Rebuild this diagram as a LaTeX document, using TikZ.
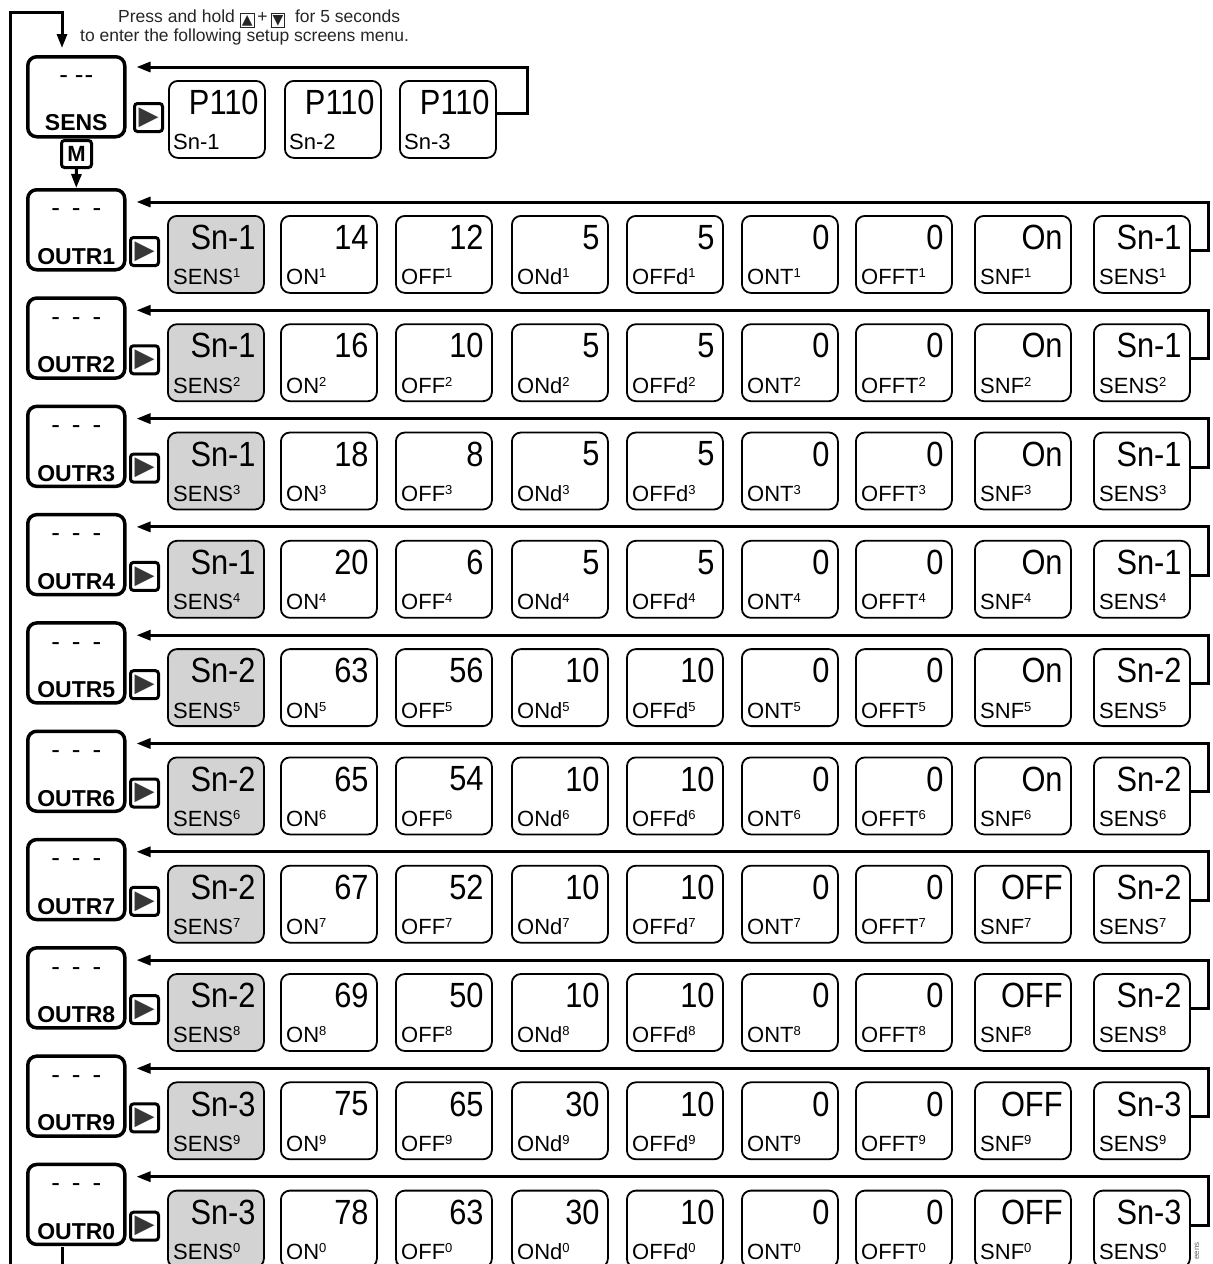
\documentclass[tikz,border=0pt]{standalone}
\usepackage{fontspec}
\setmainfont{Liberation Sans}
\newfontfamily\dejavu{DejaVu Sans}
\newfontfamily\tallsans[FakeStretch=0.88]{Liberation Sans}
\usepackage{xcolor}
\usepackage{tikz}
\usetikzlibrary{arrows.meta,calc}
\definecolor{boxgrey}{RGB}{211,211,211}
\definecolor{keygrey}{RGB}{55,55,55}
\newcommand\keyup{{\fboxsep=1pt\fboxrule=1pt\raisebox{-2pt}{\fbox{\dejavu\fontsize{14}{14}\selectfont ▲}}}}
\newcommand\keydn{{\fboxsep=1pt\fboxrule=1pt\raisebox{-2pt}{\fbox{\dejavu\fontsize{14}{14}\selectfont ▼}}}}
\newcommand\idx[1]{\raisebox{7pt}{\fontsize{13}{13}\selectfont #1}}

\begin{document}
\begin{tikzpicture}[x=1pt,y=-1pt,
  conn/.style={line width=3pt},
  arr/.style={conn,-{Triangle[length=14pt,width=10pt]}},
  menubox/.style={draw,line width=3.5pt,rounded corners=9pt,minimum width=97pt,minimum height=80pt,anchor=north west,inner sep=0pt},
  valbox/.style={draw,line width=1.8pt,rounded corners=9pt,minimum width=96pt,minimum height=77pt,anchor=north west,inner sep=0pt},
  keybox/.style={draw,line width=3pt,rounded corners=3pt,minimum size=28pt,inner sep=0pt,anchor=north west},
  bigtxt/.style={font=\tallsans\fontsize{35}{35}\selectfont,inner sep=0pt,anchor=north east},
  labtxt/.style={font=\fontsize{22}{22}\selectfont,inner sep=0pt,anchor=base west},
  menutxt/.style={font=\fontsize{23}{23}\selectfont\bfseries,inner sep=0pt,anchor=base},
  dashtxt/.style={font=\fontsize{26}{26}\selectfont,inner sep=0pt},
  hdtxt/.style={font=\fontsize{17.5}{17.5}\selectfont,inner sep=0pt,anchor=base west,text=black!85}]
\useasboundingbox (0,0) rectangle (1213,1264);

% header
\node[hdtxt] (hd1) at (118,22) {Press and hold \keyup\,+\,\keydn\ \ for 5 seconds};
\node[hdtxt] (hd2) at (80,41) {to enter the following setup screens menu.};

% sensor setup
\node[menubox] (sens) at (26,55) {};
\node[dashtxt] (sensdash) at ($(sens.north)+(0,25)$) {-\hspace{7pt}-\kern1pt-};
\node[menutxt] (senslab) at ($(sens.south)+(0,-8)$) {SENS};
\node[keybox] (sensplay) at (133,102) {\dejavu\fontsize{26}{26}\selectfont\color{keygrey}▶};
\node[keybox,minimum height=27pt,minimum width=30pt] (mkey) at (60,139) {\fontsize{22}{22}\selectfont\bfseries M};

\node[valbox] (p1) at (168,80) {};
\node[valbox] (p2) at (284,80) {};
\node[valbox] (p3) at (399,80) {};
\foreach \p/\n in {p1/1,p2/2,p3/3}{
  \node[bigtxt] (\p val) at ([xshift=-7pt,yshift=-10pt]\p.north east) {P110};
  \node[labtxt] (\p lab) at ([xshift=5pt,yshift=9pt]\p.south west) {Sn-\n};
}
\draw[arr] ([yshift=6pt]p3.east) -- ++(31,0) |- ([xshift=10pt,yshift=-12pt]sens.north east);

% outputs
\foreach \r/\s/\on/\off/\ond/\offd/\snf [count=\i from 0] in {
  1/Sn-1/14/12/5/5/On, 2/Sn-1/16/10/5/5/On, 3/Sn-1/18/8/5/5/On,
  4/Sn-1/20/6/5/5/On, 5/Sn-2/63/56/10/10/On, 6/Sn-2/65/54/10/10/On,
  7/Sn-2/67/52/10/10/OFF, 8/Sn-2/69/50/10/10/OFF, 9/Sn-3/75/65/30/10/OFF,
  0/Sn-3/78/63/30/10/OFF}{
  \pgfmathsetmacro\T{188+108.3*\i}
  \node[menubox] (o\r) at (26,\T) {};
  \node[dashtxt] (od\r) at ($(o\r.north)+(0,25)$) {-\hspace{12pt}-\hspace{12pt}-};
  \node[menutxt] (ol\r) at ($(o\r.south)+(0,-7)$) {OUTR\r};
  \node[keybox] (pl\r) at (129,{\T+48}) {\dejavu\fontsize{26}{26}\selectfont\color{keygrey}▶};
  \foreach \x/\val/\lab/\fc [count=\c] in {167/\s/SENS/boxgrey, 280/\on/ON/white,
    395/\off/OFF/white, 511/\ond/ONd/white, 626/\offd/OFFd/white, 741/0/ONT/white,
    855/0/OFFT/white, 974/\snf/SNF/white, 1093/\s/SENS/white}{
    \node[valbox,fill=\fc] (b\r-\c) at (\x,{\T+27}) {};
    \node[bigtxt] (v\r-\c) at ([xshift=-9pt,yshift=-10pt]b\r-\c.north east) {\val};
    \node[labtxt] (l\r-\c) at ([xshift=6pt,yshift=9pt]b\r-\c.south west) {\lab\idx{\r}};
  }
  \draw[arr] ([yshift=4pt]b\r-9.east) -- ++(18,0) |- ([xshift=10pt,yshift=-14pt]o\r.north east);
}

% menu loop
\coordinate (loopin) at (10,1264);
\coordinate (looptop) at (62,12);
\coordinate (entry) at (62,48);
\draw[arr] (loopin) |- (looptop) -- (entry);
\draw[arr] (mkey.south) -- (o1.north);
\coordinate (exitA) at (62,1247);
\coordinate (exitB) at (62,1264);
\draw[conn] (exitA) -- (exitB);

\node[rotate=90,font=\fontsize{8}{8}\selectfont,text=black!60,inner sep=0pt] (scr) at (1197,1251) {eens};
\end{tikzpicture}
\end{document}
